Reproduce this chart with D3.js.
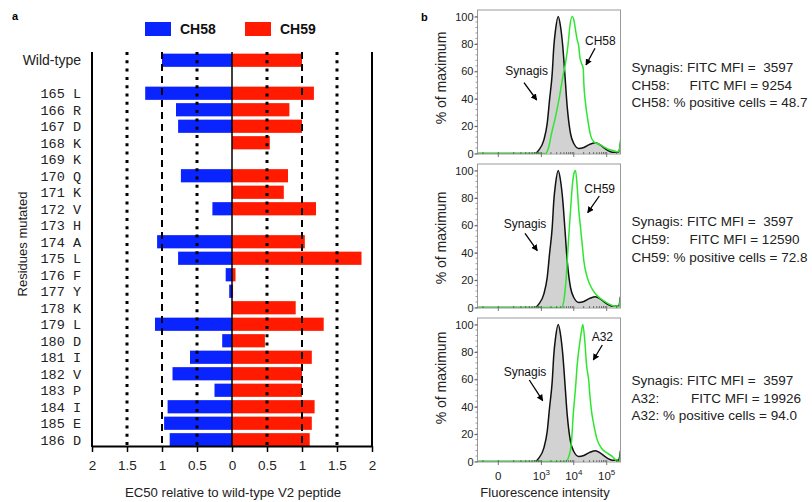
<!DOCTYPE html>
<html>
<head>
<meta charset="utf-8">
<script src="https://cdn.jsdelivr.net/npm/d3@7"></script>
<style>
  body { margin: 0; background: #fff; }
  svg { font-family: Arial, 'Liberation Sans', sans-serif; }
</style>
</head>
<body>
<svg id="canvas" width="812" height="502"></svg>
<script>
// ---- panel a data: EC50 relative to wild-type V2 peptide
var residues = ['165 L','166 R','167 D','168 K','169 K','170 Q','171 K','172 V','173 H','174 A','175 L',
  '176 F','177 Y','178 K','179 L','180 D','181 I','182 V','183 P','184 I','185 E','186 D'];
var labels = ['Wild-type'].concat(residues);
var ch58 = [1.0, 1.24, 0.80, 0.77, 0, 0, 0.73, 0, 0.28, 0, 1.07, 0.77, 0.09, 0.04, 0, 1.10, 0.14, 0.60, 0.85, 0.25, 0.92, 0.97, 0.89];
var ch59 = [1.0, 1.17, 0.82, 1.0, 0.54, 0, 0.80, 0.74, 1.2, 0, 1.04, 1.85, 0.05, 0.015, 0.91, 1.31, 0.47, 1.14, 1.0, 1.0, 1.18, 1.14, 1.11];
var ec50Ticks = [0, 0.5, 1, 1.5, 2];

// ---- panel b data: histograms [FITC intensity, % of maximum]
var synagisHist = [[-170,0],[612,0],[826,2.5],[1192,9.8],[1525,22],[1800,39],[2185,58.5],[2450,78],[2760,90],
  [3350,100],[3940,92.7],[4630,78],[5330,58.5],[6320,34],[7960,14.6],[10040,7.3],[14250,3.7],[20300,4.4],
  [32300,6.9],[45700,7.8],[65000,6.1],[104000,2.5],[147000,1],[230000,1],[262144,8]];
var ch58Hist = [[-170,0],[1350,0],[1710,4.9],[2080,14.6],[2760,26.8],[3670,41.5],[4630,56],[5600,66],[6780,80.5],
  [7590,92.7],[8970,100],[10330,96.3],[11320,90.2],[12750,83],[14250,78],[15280,70.7],[17200,65.9],[19420,62.2],
  [20250,51.2],[22800,36.6],[26800,24.4],[32300,13.4],[40700,8.5],[57700,6.8],[81900,4.9],[116000,2.9],
  [164600,2],[208500,1.2],[235000,1.2],[262144,10]];
var ch59Hist = [[-170,0],[4230,0],[4970,4.9],[5890,22],[6780,46],[7970,70.7],[8970,87.8],[10050,97.6],[11320,100],
  [12750,87.8],[14250,70.7],[16050,58.5],[18100,46],[20250,34],[25700,22],[36400,13.4],[51600,8.5],[81900,4.9],
  [130600,2],[185600,0.7],[233400,0.5],[262144,7]];
var a32Hist = [[-170,0],[5600,0],[7080,3.7],[8550,14.6],[9630,34],[11320,53.7],[12750,70.7],[15000,85.4],[17200,95.1],
  [18900,100],[21700,87.8],[24450,70.7],[28700,58.5],[30800,48.8],[34750,36.6],[40700,26.8],[51600,15.8],
  [69700,9.7],[104000,6.1],[147000,3.7],[185600,1.2],[224000,0],[245000,0],[262144,7]];
var antibodies = ['CH58', 'CH59', 'A32'];
var synagisMFI = 3597;
var antibodyMFI = [9254, 12590, 19926];
var positiveCells = ['48.7', '72.8', '94.0'];
var pctTicks = [0, 20, 40, 60, 80, 100];

var blue = '#0a24ff', red = '#ff1a00', green = '#2ee62e';
var svg = d3.select('#canvas');

// ================= panel a =================
var rows = [labels[0], ' '].concat(residues);
var y = d3.scaleBand().domain(rows).range([52, 448]).paddingInner(0.2).paddingOuter(0.1);
var xl = d3.scaleLinear().domain([0, 2]).range([232, 92]);
var xr = d3.scaleLinear().domain([0, 2]).range([232, 372]);
var yTop = 52, yBase = 446;

svg.append('text').attr('x', 12).attr('y', 20).style('font-weight', 'bold').style('font-size', '11px').text('a');

// legend
var legend = svg.append('g');
[['CH58', blue, 145], ['CH59', red, 245]].forEach(function(l) {
  legend.append('rect').attr('x', l[2]).attr('y', 22).attr('width', 26).attr('height', 14).attr('fill', l[1]);
  legend.append('text').attr('x', l[2] + 35).attr('y', 34).style('font-weight', 'bold').style('font-size', '14px')
    .attr('fill', '#111').text(l[0]);
});

var bars = svg.append('g');
bars.selectAll('rect.ch58').data(labels).join('rect').attr('class', 'ch58')
  .attr('x', function(d, i) { return xl(ch58[i]); })
  .attr('y', function(d) { return y(d); })
  .attr('width', function(d, i) { return xl(0) - xl(ch58[i]); })
  .attr('height', y.bandwidth())
  .attr('fill', blue);
bars.selectAll('rect.ch59').data(labels).join('rect').attr('class', 'ch59')
  .attr('x', xr(0))
  .attr('y', function(d) { return y(d); })
  .attr('width', function(d, i) { return xr(ch59[i]) - xr(0); })
  .attr('height', y.bandwidth())
  .attr('fill', red);

// reference lines
var refs = [];
[xl, xr].forEach(function(s) {
  refs.push({x: s(0.5), dot: true}, {x: s(1), dot: false}, {x: s(1.5), dot: true});
});
svg.append('g').selectAll('line').data(refs).join('line')
  .attr('x1', function(d) { return d.x; }).attr('x2', function(d) { return d.x; })
  .attr('y1', yTop).attr('y2', yBase)
  .attr('stroke', '#000')
  .attr('stroke-width', function(d) { return d.dot ? 3 : 2; })
  .attr('stroke-dasharray', function(d) { return d.dot ? '3,5.3' : '7,5'; });

svg.append('line').attr('x1', xl(0)).attr('x2', xl(0)).attr('y1', yTop).attr('y2', yBase)
  .attr('stroke', '#000').attr('stroke-width', 1.5);
[xl(2), xr(2)].forEach(function(x) {
  svg.append('line').attr('x1', x).attr('x2', x).attr('y1', yTop).attr('y2', yBase + 1)
    .attr('stroke', '#000').attr('stroke-width', 2);
});

function styleAxis(g) {
  g.selectAll('path').attr('stroke-width', 2);
  g.selectAll('line').attr('stroke-width', 1.5);
  g.selectAll('text').style('font-size', '13.5px').attr('fill', '#222').style('font-family', 'Arial, sans-serif');
}
svg.append('g').attr('transform', 'translate(0,' + yBase + ')')
  .call(d3.axisBottom(xl).tickValues(ec50Ticks.slice(1)).tickFormat(function(d) { return d; })
    .tickSize(6).tickSizeOuter(0).tickPadding(8))
  .call(styleAxis);
svg.append('g').attr('transform', 'translate(0,' + yBase + ')')
  .call(d3.axisBottom(xr).tickValues(ec50Ticks).tickFormat(function(d) { return d; })
    .tickSize(6).tickSizeOuter(0).tickPadding(8))
  .call(styleAxis);

svg.append('text').attr('x', 233).attr('y', 497).attr('text-anchor', 'middle')
  .style('font-size', '13.2px').attr('fill', '#222').text('EC50 relative to wild-type V2 peptide');

svg.append('g').selectAll('text').data(labels).join('text')
  .attr('x', 81)
  .attr('y', function(d) { return y(d) + y.bandwidth() / 2; })
  .attr('dy', '0.36em')
  .attr('text-anchor', 'end')
  .attr('fill', '#222')
  .style('font-family', function(d, i) { return i ? "'Liberation Mono', 'Courier New', monospace" : 'Arial, sans-serif'; })
  .style('font-size', function(d, i) { return i ? '13.5px' : '14px'; })
  .style('white-space', 'pre')
  .text(function(d) { return d; });

svg.append('text').attr('transform', 'translate(27,244)rotate(-90)').attr('text-anchor', 'middle')
  .style('font-size', '13px').attr('fill', '#222').text('Residues mutated');

// ================= panel b =================
svg.append('text').attr('x', 421).attr('y', 20.5).style('font-weight', 'bold').style('font-size', '11px').text('b');

var fx = d3.scaleSymlog().constant(52).domain([-170, 262144]).range([477.5, 620.5]);
var hists = [ch58Hist, ch59Hist, a32Hist];
var layout = [
  {top: 10, ylab: 78, syn: [526.7, 75], synArrow: [524, 82.7, 536.7, 100], ab: [585, 45], abArrow: [595, 48.3, 586, 65], stats: [71.5, 89.5, 107]},
  {top: 164, ylab: 238, syn: [525, 227.5], synArrow: [525, 233.3, 537.3, 250.7], ab: [584.3, 192.5], abArrow: [599.3, 196, 587.7, 212.7], stats: [226, 243.5, 261.5]},
  {top: 318, ylab: 378, syn: [525, 376], synArrow: [529.3, 380, 542.7, 400.7], ab: [591.7, 340.7], abArrow: [602.3, 345, 593.3, 360], stats: [385, 402.5, 420]}
];

svg.append('defs').append('marker').attr('id', 'arrow')
  .attr('viewBox', '0 0 10 10').attr('refX', 9).attr('refY', 5)
  .attr('markerWidth', 5).attr('markerHeight', 5).attr('orient', 'auto')
  .append('path').attr('d', 'M0,0L10,5L0,10z').attr('fill', '#000');

var majorX = [0, 1000, 10000, 100000];
var minorX = [-100, 100, 200, 300, 400, 500, 600, 700, 800, 900];
[2, 3, 4, 5, 6, 7, 8, 9].forEach(function(m) { minorX.push(m * 1000, m * 10000); });
minorX.push(200000);

layout.forEach(function(p, k) {
  var fy = d3.scaleLinear().domain([0, 100]).range([p.top + 143.5, p.top + 6.5]);
  var g = svg.append('g');

  g.append('clipPath').attr('id', 'clip' + k).append('rect')
    .attr('x', 477.5).attr('y', p.top).attr('width', 143).attr('height', 144);

  var area = d3.area().x(function(d) { return fx(d[0]); }).y0(fy(0)).y1(function(d) { return fy(d[1]); })
    .curve(d3.curveMonotoneX);
  var line = d3.line().x(function(d) { return fx(d[0]); }).y(function(d) { return fy(d[1]); })
    .curve(d3.curveMonotoneX);

  var plot = g.append('g').attr('clip-path', 'url(#clip' + k + ')');
  plot.append('path').datum(synagisHist).attr('d', area).attr('fill', '#d2d2d2');
  plot.append('path').datum(synagisHist).attr('d', line).attr('fill', 'none').attr('stroke', '#111').attr('stroke-width', 1.5);
  plot.append('path').datum(hists[k]).attr('d', line).attr('fill', 'none').attr('stroke', green).attr('stroke-width', 1.5);

  g.append('rect').attr('x', 477.5).attr('y', p.top).attr('width', 143).attr('height', 144)
    .attr('fill', 'none').attr('stroke', '#9a9a9a').attr('stroke-width', 1);

  // y axis
  var ya = g.append('g').attr('transform', 'translate(477.5,0)')
    .call(d3.axisLeft(fy).tickValues(pctTicks).tickSize(3).tickSizeOuter(0).tickPadding(1));
  ya.select('.domain').remove();
  ya.selectAll('line').attr('stroke', '#555');
  ya.selectAll('text').style('font-size', '11px').attr('fill', '#222');
  g.append('g').selectAll('line').data(d3.range(0, 101, 4)).join('line')
    .attr('x1', 475.5).attr('x2', 477.5)
    .attr('y1', function(d) { return fy(d); }).attr('y2', function(d) { return fy(d); })
    .attr('stroke', '#777').attr('stroke-width', 0.7);

  g.append('text').attr('transform', 'translate(446,' + p.ylab + ')rotate(-90)').attr('text-anchor', 'middle')
    .style('font-size', '14px').attr('fill', '#222').text('% of maximum');

  // x ticks
  var b = p.top + 144;
  g.append('g').selectAll('line').data(minorX).join('line')
    .attr('x1', function(d) { return fx(d); }).attr('x2', function(d) { return fx(d); })
    .attr('y1', b).attr('y2', b - 2).attr('stroke', '#555').attr('stroke-width', 0.8);
  g.append('g').selectAll('line').data(majorX).join('line')
    .attr('x1', function(d) { return fx(d); }).attr('x2', function(d) { return fx(d); })
    .attr('y1', b - 2).attr('y2', b + 3).attr('stroke', '#555').attr('stroke-width', 0.8);

  if (k === 2) {
    var xt = g.append('g').selectAll('text').data(majorX).join('text')
      .attr('x', function(d) { return fx(d); }).attr('y', 480)
      .attr('text-anchor', 'middle').style('font-size', '11.5px').attr('fill', '#222');
    xt.each(function(d) {
      var t = d3.select(this);
      if (d === 0) { t.text('0'); return; }
      t.append('tspan').text('10');
      t.append('tspan').attr('dy', -5).style('font-size', '8px').text(Math.round(Math.log10(d)));
    });
    g.append('text').attr('x', 545).attr('y', 497).attr('text-anchor', 'middle')
      .style('font-size', '13px').attr('fill', '#222').text('Fluorescence intensity');
  }

  // annotations
  g.append('text').attr('x', p.syn[0]).attr('y', p.syn[1]).attr('text-anchor', 'middle')
    .style('font-size', '12px').attr('fill', '#111').text('Synagis');
  g.append('text').attr('x', p.ab[0]).attr('y', p.ab[1])
    .style('font-size', '12px').attr('fill', '#111').text(antibodies[k]);
  [p.synArrow, p.abArrow].forEach(function(a) {
    g.append('line').attr('x1', a[0]).attr('y1', a[1]).attr('x2', a[2]).attr('y2', a[3])
      .attr('stroke', '#000').attr('stroke-width', 1.3).attr('marker-end', 'url(#arrow)');
  });

  // stats text
  var st = g.append('g').style('font-size', '13.5px').attr('fill', '#222');
  st.append('text').attr('x', 631.5).attr('y', p.stats[0]).style('white-space', 'pre')
    .text('Synagis: FITC MFI =  ' + synagisMFI);
  st.append('text').attr('x', 631.5).attr('y', p.stats[1]).text(antibodies[k] + ':');
  st.append('text').attr('x', k === 2 ? 691 : 689.5).attr('y', p.stats[1]).text('FITC MFI = ' + antibodyMFI[k]);
  st.append('text').attr('x', 631.5).attr('y', p.stats[2])
    .text(antibodies[k] + ': % positive cells = ' + positiveCells[k]);
});
</script>
</body>
</html>
